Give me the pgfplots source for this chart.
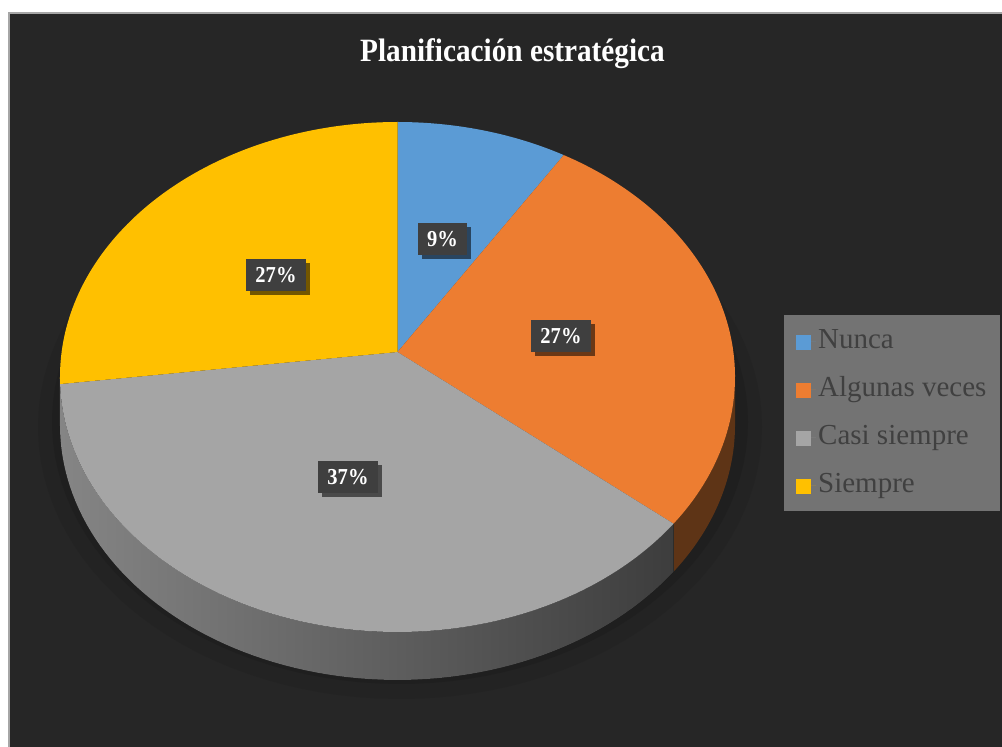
\documentclass[border=0pt]{standalone}
\usepackage{pgfplots}
\pgfplotsset{compat=1.18}
\usepgfplotslibrary{fillbetween}
\usetikzlibrary{shadows}
\usepackage{fontspec}
\setmainfont{Liberation Serif}
\newfontfamily\condfont{Liberation Serif}[FakeStretch=0.9]
\definecolor{bgdark}{HTML}{262626}
\definecolor{bordgray}{HTML}{A6A6A6}
\definecolor{shadowc}{HTML}{1F1F1F}
\definecolor{shadowc2}{HTML}{232323}
\definecolor{cnunca}{HTML}{5B9BD5}
\definecolor{calg}{HTML}{ED7D31}
\definecolor{ccasi}{HTML}{A5A5A5}
\definecolor{csiem}{HTML}{FFC000}
\definecolor{algside}{HTML}{5E3416}
\definecolor{casisideL}{HTML}{858585}
\definecolor{casisideM}{HTML}{444444}
\definecolor{casisideR}{HTML}{3D3D3D}
\definecolor{legfill}{HTML}{737373}
\definecolor{legtext}{HTML}{404040}
\definecolor{boxc}{HTML}{3F3F3F}
\begin{document}
\begin{tikzpicture}
\begin{axis}[
  scale only axis, width=1002pt, height=747pt,
  xmin=0, xmax=1002, ymin=0, ymax=747,
  hide axis,
  fill between/on layer=main,
  declare function={
    PX(\p)=397.5+335.9*sin(3.6*\p)/(1+0.098*cos(3.6*\p));
    PY(\p)=370+255*(cos(3.6*\p)+0.098)/(1+0.098*cos(3.6*\p));
  },
  legend style={at={(0.7824,0.5783)}, anchor=north west, draw=none,
    fill=legfill, text=legtext, font=\fontsize{29}{34}\selectfont,
    inner xsep=12pt, inner ysep=12pt, row sep=20pt,
    cells={anchor=west},
    nodes={text height=21pt, text depth=7pt, inner ysep=0pt}},
  legend image code/.code={\fill[#1] (0pt,-9pt) rectangle (15pt,6pt); \path (0pt,0pt) -- (20pt,0pt);},
]
% background frame
\addplot[fill=white, draw=none, forget plot] coordinates {(0,0) (1002,0) (1002,747) (0,747)} -- cycle;
\addplot[fill=bordgray, draw=none, forget plot] coordinates {(8,0) (1002,0) (1002,735) (8,735)} -- cycle;
\addplot[fill=bgdark, draw=none, forget plot] coordinates {(10,0) (1002,0) (1002,733) (10,733)} -- cycle;
% soft shadow under the pie
\addplot[fill=shadowc2, draw=none, forget plot, domain=0:360, samples=120] ({400+362*cos(x)},{320+272*sin(x)});
\addplot[fill=shadowc, draw=none, forget plot, domain=0:360, samples=120] ({400+348*cos(x)},{325+262*sin(x)});
% side walls
\addplot[draw=none, name path=atop, forget plot, domain=26.6:36, samples=40] ({PX(x)},{PY(x)});
\addplot[draw=none, name path=abot, forget plot, domain=26.6:36, samples=40] ({PX(x)},{PY(x)-48});
\addplot[fill=algside, draw=none, forget plot] fill between[of=atop and abot];
\addplot[draw=none, name path=ctop, forget plot, domain=36:73.4, samples=80] ({PX(x)},{PY(x)});
\addplot[draw=none, name path=cbot, forget plot, domain=36:73.4, samples=80] ({PX(x)},{PY(x)-48});
\addplot[left color=casisideL, middle color=casisideM, right color=casisideR, draw=none, forget plot] fill between[of=ctop and cbot];
% top face sectors (cumulative percentages: 9, 27, 37, 27)
\addplot[fill=cnunca, draw=none, domain=0:9, samples=40] ({PX(x)},{PY(x)}) -- (397.5,395) -- cycle;
\addplot[fill=calg, draw=none, domain=9:36, samples=80] ({PX(x)},{PY(x)}) -- (397.5,395) -- cycle;
\addplot[fill=ccasi, draw=none, domain=36:73, samples=100] ({PX(x)},{PY(x)}) -- (397.5,395) -- cycle;
\addplot[fill=csiem, draw=none, domain=73:100, samples=80] ({PX(x)},{PY(x)}) -- (397.5,395) -- cycle;
\legend{Nunca, Algunas veces, Casi siempre, Siempre}
% data labels
\addplot[draw=none, forget plot, nodes near coords, point meta=explicit symbolic,
  every node near coord/.style={anchor=center, fill=boxc, text=white,
    font=\condfont\bfseries\fontsize{22.8}{26}\selectfont,
    inner xsep=9.5pt, inner ysep=0pt, minimum height=32pt,
    drop shadow={shadow xshift=4pt, shadow yshift=-4pt, opacity=0.55, fill=black}}]
  coordinates {(442.5,507.5) [9\%] (561,411) [27\%] (276,471.5) [27\%] (348,269.5) [37\%]};
% title
\node[anchor=base, text=white, font=\condfont\bfseries\fontsize{32.5}{36}\selectfont] at (512.5,685) {Planificación estratégica};
\end{axis}
\pgfresetboundingbox
\path[use as bounding box] (current axis.south west) rectangle (current axis.north east);
\end{tikzpicture}
\end{document}
